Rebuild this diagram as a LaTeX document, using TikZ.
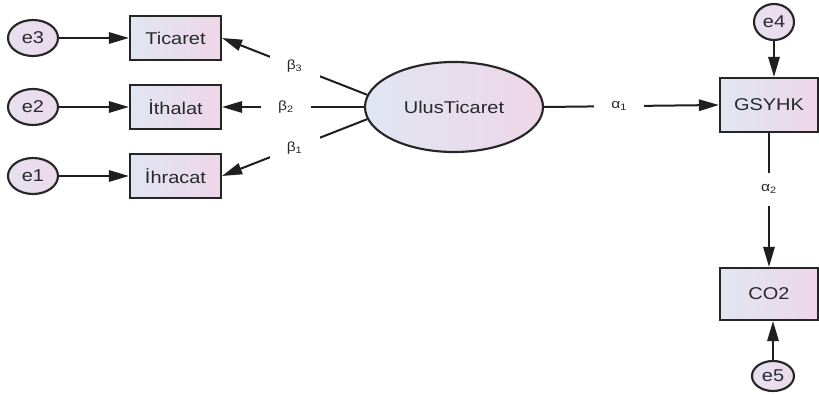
\documentclass[tikz,border=0pt]{standalone}
\usepackage{fontspec}
\setmainfont[FakeStretch=1.17]{Liberation Sans}
\usetikzlibrary{shapes.geometric,arrows.meta,calc}
\definecolor{txt}{RGB}{40,40,45}
\definecolor{lcol}{RGB}{224,230,242}
\definecolor{rcol}{RGB}{238,214,232}
\definecolor{ecol}{RGB}{236,218,236}
\tikzset{
  obs/.style={draw=black!85,line width=1.6pt,rectangle,left color=lcol,right color=rcol,
    minimum width=68.25pt,minimum height=33pt,inner sep=0pt,text=txt,
    font=\fontsize{12.8}{14}\selectfont},
  err/.style={draw=black!85,line width=1.6pt,ellipse,left color=lcol!50!ecol,right color=ecol,
    minimum width=37.5pt,minimum height=27pt,inner sep=0pt,text=txt,
    font=\fontsize{12.8}{14}\selectfont},
  lat/.style={draw=black!85,line width=1.6pt,ellipse,left color=lcol,right color=rcol,
    minimum width=133.5pt,minimum height=67.5pt,inner sep=0pt,text=txt,
    font=\fontsize{12.8}{14}\selectfont},
  arr/.style={draw=black!88,line width=1.5pt,-{Triangle[length=15pt,width=8.5pt]}},
  lbl/.style={fill=white,inner sep=0pt,minimum width=37.5pt,minimum height=25pt,
    text=txt,font=\fontsize{10}{11}\selectfont}
}
\begin{document}
\begin{tikzpicture}[x=0.75pt,y=-0.75pt]
\useasboundingbox (0,0) rectangle (819,395);
% left side
\node[err] (e3) at (33,38) {e3};
\node[err] (e2) at (33,107) {e2};
\node[err] (e1) at (33,176) {e1};
\node[obs] (tic) at (175.5,38) {Ticaret};
\node[obs] (ith) at (175.5,107) {İthalat};
\node[obs] (ihr) at (175.5,176) {İhracat};
% latent
\node[lat] (ulus) at (454,107) {UlusTicaret};
% right side
\node[obs,minimum width=73.5pt,minimum height=40.5pt] (gsy) at (769,105) {GSYHK};
\node[obs,minimum width=73.5pt,minimum height=39pt] (co2) at (769,294) {CO2};
\node[err,minimum width=30pt,minimum height=27pt] (e4) at (774,22) {e4};
\node[err,minimum width=31.5pt,minimum height=22.5pt] (e5) at (773,376) {e5};
% error arrows
\draw[arr] (e3) -- (tic);
\draw[arr] (e2) -- (ith);
\draw[arr] (e1) -- (ihr);
\draw[arr] (e4) -- (e4 |- gsy.north);
\draw[arr] (e5) -- (e5 |- co2.south);
% loadings
\draw[arr] (ulus.172) -- node[lbl,pos=0.5]{β\textsubscript{3}} (tic.east);
\draw[arr] (ulus.west) -- node[lbl,pos=0.55]{β\textsubscript{2}} (ith.east);
\draw[arr] (ulus.188) -- node[lbl,pos=0.5]{β\textsubscript{1}} (ihr.east);
% paths
\draw[arr] (ulus.east) -- node[lbl,pos=0.43]{α\textsubscript{1}} (gsy.west);
\draw[arr] (gsy.south) -- node[lbl,pos=0.42]{α\textsubscript{2}} (co2.north);
\end{tikzpicture}
\end{document}
